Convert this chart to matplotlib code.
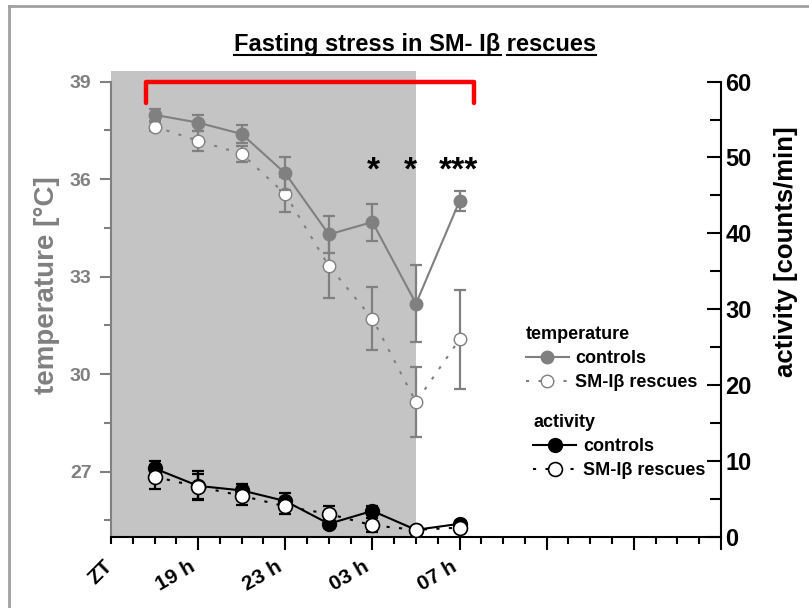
import matplotlib
matplotlib.use('Agg')
import matplotlib.pyplot as plt
from matplotlib.lines import Line2D
from matplotlib.ticker import MultipleLocator

plt.rcParams['font.family'] = ['Liberation Sans', 'DejaVu Sans']
plt.rcParams['font.weight'] = 'bold'

# data (ZT hours, after midnight counted on past 24)
hours = [17, 19, 21, 23, 25, 27, 29, 31]
temp_ctrl = [37.98, 37.74, 37.39, 36.18, 34.30, 34.68, 32.17, 35.33]
temp_ctrl_err = [0.18, 0.25, 0.28, 0.51, 0.58, 0.57, 1.19, 0.30]
temp_resc = [37.62, 37.18, 36.78, 35.54, 33.33, 31.71, 29.14, 31.07]
temp_resc_err = [0.15, 0.30, 0.24, 0.54, 0.98, 0.96, 1.08, 1.53]
act_ctrl = [9.0, 6.7, 6.1, 4.7, 1.7, 3.4, 0.9, 1.7]
act_ctrl_err = [1.0, 1.9, 0.8, 1.0, 0.6, 0.6, 0.3, 0.4]
act_resc = [7.9, 6.6, 5.4, 4.0, 3.0, 1.5, 0.9, 1.2]
act_resc_err = [1.6, 1.6, 1.2, 1.0, 1.0, 0.9, 0.3, 0.4]

tick_hours = [19, 23, 27, 31, 35, 39, 43]
tick_names = ['19 h', '23 h', '03 h', '07 h', '', '', '']
dark_phase = (15, 29)
fasting = (16.62, 31.68)
star_x = [27.05, 28.74, 30.94]
star_txt = ['*', '*', '***']

GRAY = '#808080'

fig = plt.figure(figsize=(8.09, 6.08), dpi=100)
ax = fig.add_axes([0.1372, 0.1173, 0.754, 0.766])
ax2 = ax.twinx()

ax.set_xlim(15, 43)
ax.set_ylim(25, 39.33)
ax2.set_ylim(0, 61.41)

# dark phase shading
ax.axvspan(dark_phase[0], dark_phase[1], color='#c4c4c4', zorder=0, lw=0)

# temperature
ax.errorbar(hours, temp_resc, yerr=temp_resc_err, fmt='none', ecolor=GRAY,
            elinewidth=1.6, capsize=4, capthick=1.6, zorder=3)
ax.plot(hours, temp_resc, ls=(0, (1.5, 4.5)), lw=1.5, color=GRAY, marker='o',
        ms=9, mfc='white', mec=GRAY, mew=1, zorder=3)
ax.errorbar(hours, temp_ctrl, yerr=temp_ctrl_err, fmt='none', ecolor=GRAY,
            elinewidth=1.6, capsize=4, capthick=1.6, zorder=4)
ax.plot(hours, temp_ctrl, ls='-', lw=1.5, color=GRAY, marker='o',
        ms=9, mfc=GRAY, mec=GRAY, zorder=4)

# activity
ax2.errorbar(hours, act_ctrl, yerr=act_ctrl_err, fmt='none', ecolor='black',
             elinewidth=1.6, capsize=4, capthick=1.6, zorder=3)
ax2.plot(hours, act_ctrl, ls='-', lw=1.5, color='black', marker='o',
         ms=10, mfc='black', mec='black', zorder=3)
ax2.errorbar(hours, act_resc, yerr=act_resc_err, fmt='none', ecolor='black',
             elinewidth=1.6, capsize=4, capthick=1.6, zorder=4)
ax2.plot(hours, act_resc, ls=(0, (1.5, 4.5)), lw=1.5, color='black', marker='o',
         ms=10, mfc='white', mec='black', mew=1.2, zorder=4)

# fasting bracket and stars
ax.plot([fasting[0], fasting[0], fasting[1], fasting[1]], [38.35, 39, 39, 38.35],
        color='red', lw=3.2, solid_capstyle='round', solid_joinstyle='round',
        clip_on=False, zorder=5)
for x, s in zip(star_x, star_txt):
    ax.text(x, 36.0, s, ha='center', va='baseline', fontsize=24, color='black')

# spines
for a in (ax, ax2):
    a.spines['top'].set_visible(False)
ax.spines['right'].set_visible(False)
ax2.spines['left'].set_visible(False)
ax2.spines['bottom'].set_visible(False)
ax.spines['left'].set_color(GRAY)
ax.spines['left'].set_linewidth(1.5)
ax.spines['left'].set_bounds(25, 39)
ax.spines['bottom'].set_linewidth(1.5)
ax2.spines['right'].set_linewidth(1.5)
ax2.spines['right'].set_bounds(0, 60)

# x ticks
ax.set_xticks(tick_hours, tick_names)
ax.xaxis.set_minor_locator(MultipleLocator(1))
ax.tick_params(axis='x', which='major', length=9, width=1.5, pad=6,
               labelsize=15, labelrotation=30)
ax.tick_params(axis='x', which='minor', length=5, width=1.5)
for lab in ax.get_xticklabels():
    lab.set_ha('right')
ax.text(-0.0164, -0.0758, 'ZT', transform=ax.transAxes, rotation=45,
        ha='center', va='center', fontsize=15)

# left y ticks
ax.set_yticks([27, 30, 33, 36, 39])
ax.yaxis.set_minor_locator(MultipleLocator(1.5))
ax.tick_params(axis='y', which='major', colors=GRAY, length=8, width=1.5,
               labelsize=14, pad=6)
ax.tick_params(axis='y', which='minor', colors=GRAY, length=5, width=1.5)

# right y ticks
ax2.set_yticks([0, 10, 20, 30, 40, 50, 60])
ax2.yaxis.set_minor_locator(MultipleLocator(5))
ax2.tick_params(axis='y', which='major', direction='in', length=10, width=1.5,
                labelsize=17, pad=3)
ax2.tick_params(axis='y', which='minor', direction='in', length=8, width=1.5)

ax.text(-0.1049, 0.5405, 'temperature [°C]', transform=ax.transAxes, rotation=90,
        ha='center', va='center', fontsize=20, color=GRAY)
ax2.text(1.1074, 0.6113, 'activity [counts/min]', transform=ax.transAxes,
         rotation=90, ha='center', va='center', fontsize=18.5, color='black')

# legends
h1 = Line2D([], [], color=GRAY, lw=1.5, marker='o', ms=9, mfc=GRAY, mec=GRAY)
h2 = Line2D([], [], color=GRAY, lw=1.5, ls=(0, (1.5, 4.5)), marker='o', ms=9,
            mfc='white', mec=GRAY, mew=1)
h3 = Line2D([], [], color='black', lw=1.5, marker='o', ms=10, mfc='black', mec='black')
h4 = Line2D([], [], color='black', lw=1.5, ls=(0, (1.5, 4.5)), marker='o', ms=10,
            mfc='white', mec='black', mew=1.2)
common = dict(loc='upper left', frameon=False, fontsize=13, alignment='left',
              title_fontproperties={'weight': 'bold', 'size': 13},
              handlelength=2.4, handletextpad=0.35, borderpad=0,
              borderaxespad=0, labelspacing=0.38)
leg1 = ax2.legend([h1, h2], ['controls', 'SM-Iβ rescues'], title='temperature',
                  bbox_to_anchor=(0.68, 0.452), **common)
ax2.add_artist(leg1)
ax2.legend([h3, h4], ['controls', 'SM-Iβ rescues'], title='activity',
           bbox_to_anchor=(0.692, 0.263), **common)

# title with underline
title = fig.text(415 / 809, 1 - 51 / 608, 'Fasting stress in SM- Iβ rescues',
                 ha='center', va='baseline', fontsize=17)
r = fig.canvas.get_renderer()
bb = title.get_window_extent(r)
tmp = fig.text(0, 0, 'rescues', fontsize=17)
w_res = tmp.get_window_extent(r).width
tmp.remove()
uy = 1 - 55 / 608
W, H = fig.bbox.width, fig.bbox.height
fig.add_artist(Line2D([bb.x0 / W, (bb.x1 - w_res - 6) / W], [uy, uy],
                      transform=fig.transFigure, color='black', lw=1.5))
fig.add_artist(Line2D([(bb.x1 - w_res) / W, bb.x1 / W], [uy, uy],
                      transform=fig.transFigure, color='black', lw=1.5))

# outer border
fig.add_artist(Line2D([8.5 / 809, 1], [1 - 5.5 / 608] * 2, transform=fig.transFigure,
                      color='#a0a0a0', lw=2))
fig.add_artist(Line2D([8.5 / 809] * 2, [0, 1 - 5.5 / 608], transform=fig.transFigure,
                      color='#a0a0a0', lw=2))

fig.savefig('out.png', dpi=100)
